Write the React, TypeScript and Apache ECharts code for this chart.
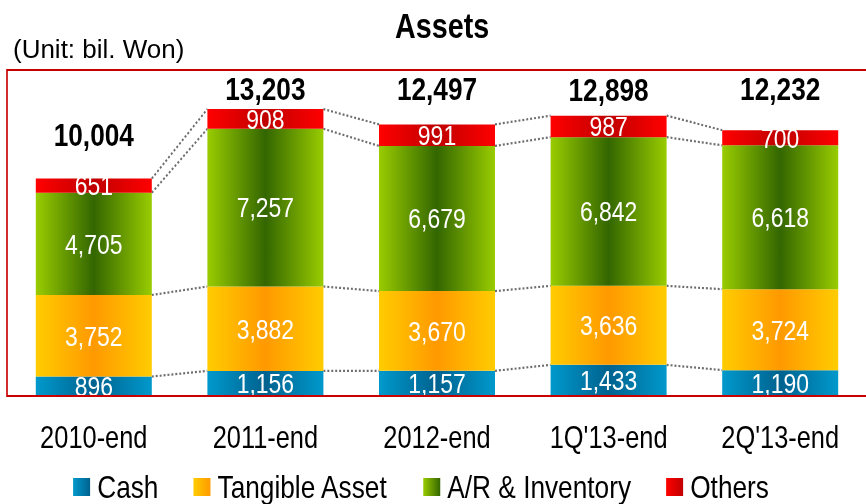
import React, { useEffect, useRef } from "react";
import * as echarts from "echarts";

const categories = ["2010-end", "2011-end", "2012-end", "1Q'13-end", "2Q'13-end"];
const cash = [896, 1156, 1157, 1433, 1190];
const tangible = [3752, 3882, 3670, 3636, 3724];
const arInventory = [4705, 7257, 6679, 6842, 6618];
const others = [651, 908, 991, 987, 700];
const totals = [10004, 13203, 12497, 12898, 12232];
const totalLabelGap = [31, 7, 22, 13, 28];

// The reference uses a narrow face (Arial Narrow); it is emulated by drawing the
// chart in a wider box and compressing it horizontally.
const PAGE_W = 866;
const S = 0.82;
const W = Math.round(PAGE_W / S);
const SX = PAGE_W / W;
const X = (px: number) => px / SX; // screen px -> chart px (horizontal)

const FONT = "'Liberation Sans', Arial, sans-serif";
const BAR_W = X(116);

const grad3 = (edge: string, mid: string) =>
  new echarts.graphic.LinearGradient(0, 0, 1, 0, [
    { offset: 0, color: edge },
    { offset: 0.5, color: mid },
    { offset: 1, color: edge },
  ]);
const grad2 = (edge: string, mid: string) =>
  new echarts.graphic.LinearGradient(0, 0, 1, 0, [
    { offset: 0, color: edge },
    { offset: 1, color: mid },
  ]);

const palette = [
  { name: "Cash", data: cash, edge: "#0099cc", mid: "#00628f" },
  { name: "Tangible Asset", data: tangible, edge: "#ffcc00", mid: "#ff9900" },
  { name: "A/R & Inventory", data: arInventory, edge: "#99cc00", mid: "#336600" },
  { name: "Others", data: others, edge: "#ff0000", mid: "#c00000" },
];

const fmt = (v: number) => v.toLocaleString("en-US");

export default function App() {
  const ref = useRef<HTMLDivElement>(null);
  useEffect(() => {
    if (!ref.current) return;
    const chart = echarts.init(ref.current, null, { renderer: "svg" });

    const cum: number[][] = [];
    let run = categories.map(() => 0);
    palette.forEach((p) => {
      run = run.map((r, i) => r + p.data[i]);
      cum.push(run.slice());
    });
    const connectorData: number[][] = [];
    for (let i = 0; i < categories.length - 1; i++) {
      cum.forEach((lvl) => connectorData.push([i, lvl[i], lvl[i + 1]]));
    }

    const barSeries = palette.map((p) => ({
      name: p.name,
      type: "bar",
      stack: "assets",
      barWidth: BAR_W,
      itemStyle: { color: grad3(p.edge, p.mid) },
      label: {
        show: true,
        position: "inside",
        color: "#fff",
        fontFamily: FONT,
        fontSize: 28,
        lineHeight: 22,
        formatter: (prm: any) => fmt(prm.value),
      },
      data: p.data,
    }));

    const totalSeries = {
      name: "__total",
      type: "bar",
      stack: "assets",
      barWidth: BAR_W,
      itemStyle: { color: "transparent" },
      silent: true,
      label: {
        show: true,
        position: "top",
        color: "#000",
        fontWeight: "bold",
        fontFamily: FONT,
        fontSize: 32,
        lineHeight: 26,
        formatter: (prm: any) => fmt(totals[prm.dataIndex]),
      },
      data: totals.map((_, i) => ({ value: 0, label: { distance: totalLabelGap[i] } })),
    };

    const connectorSeries = {
      name: "__conn",
      type: "custom",
      silent: true,
      z: 1,
      renderItem: (_params: any, api: any) => {
        const i = api.value(0);
        const p1 = api.coord([i, api.value(1)]);
        const p2 = api.coord([i + 1, api.value(2)]);
        return {
          type: "line",
          shape: { x1: p1[0] + BAR_W / 2, y1: p1[1], x2: p2[0] - BAR_W / 2, y2: p2[1] },
          style: { stroke: "#6e6e6e", lineWidth: 2.2, lineDash: [2.4, 2.4] },
        };
      },
      data: connectorData,
    };

    chart.setOption({
      animation: false,
      title: {
        text: "Assets",
        left: X(391),
        top: 3,
        textStyle: { fontFamily: FONT, fontWeight: "bold", fontSize: 35, color: "#000" },
      },
      legend: {
        left: X(69),
        top: 466,
        itemWidth: X(17),
        itemHeight: 18,
        itemGap: X(35),
        icon: "rect",
        textStyle: { fontFamily: FONT, fontSize: 32, color: "#000", padding: [0, 0, 0, X(3)] },
        data: palette.map((p) => ({ name: p.name, itemStyle: { color: grad2(p.edge, p.mid) } })),
      },
      grid: { left: X(8), top: 70, width: X(862), height: 326 },
      xAxis: {
        type: "category",
        data: categories,
        axisLine: { show: false },
        axisTick: { show: false },
        axisLabel: { interval: 0, margin: 26, fontFamily: FONT, fontSize: 31, color: "#000" },
      },
      yAxis: { type: "value", min: 0, max: 15000, show: false, splitLine: { show: false } },
      graphic: [
        {
          type: "text",
          x: X(13),
          y: 49,
          scaleX: 1 / SX,
          silent: true,
          style: {
            text: "(Unit: bil. Won)",
            fill: "#000",
            font: `26px ${FONT}`,
            textAlign: "left",
            textVerticalAlign: "middle",
          },
        },
        {
          type: "rect",
          z: 100,
          silent: true,
          shape: { x: X(7), y: 70, width: X(870), height: 326 },
          style: { fill: "none", stroke: "#c80000", lineWidth: 2 },
        },
      ],
      series: [...barSeries, totalSeries, connectorSeries],
    });
    return () => chart.dispose();
  }, []);
  return (
    <div
      ref={ref}
      style={{
        position: "fixed",
        left: 0,
        top: 0,
        width: W,
        height: 504,
        transform: `scaleX(${SX})`,
        transformOrigin: "0 0",
      }}
    />
  );
}
